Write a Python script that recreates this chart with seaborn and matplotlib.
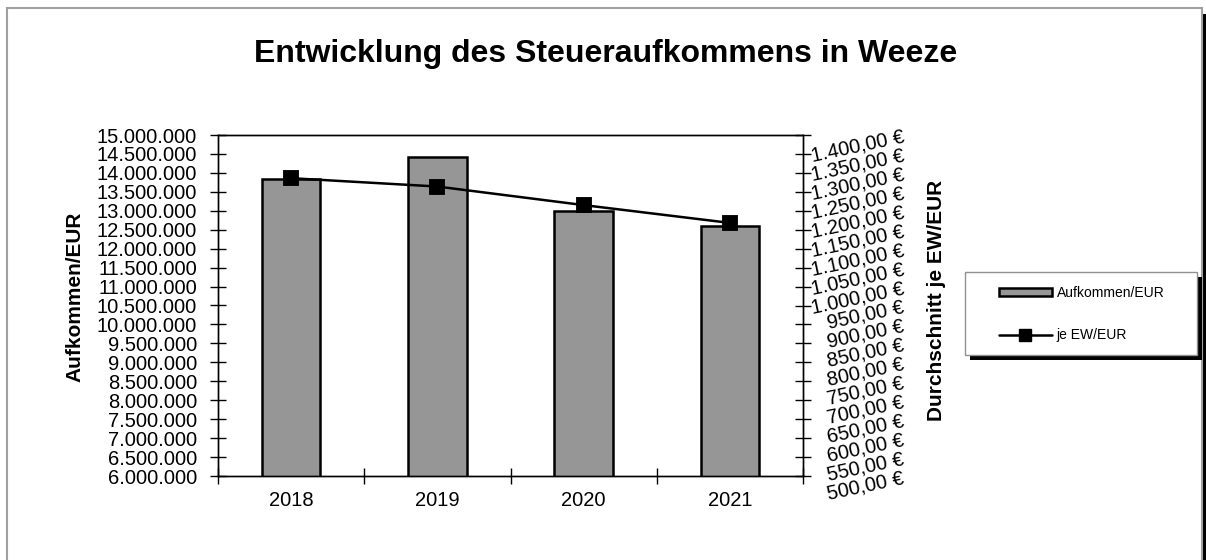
import matplotlib
matplotlib.use("Agg")
import matplotlib.pyplot as plt
import seaborn as sns
from matplotlib.patches import Rectangle, Patch
from matplotlib.lines import Line2D
from matplotlib.ticker import FuncFormatter, MultipleLocator

# data
years = ['2018', '2019', '2020', '2021']
aufkommen = [13_830_000, 14_410_000, 13_000_000, 12_600_000]   # Aufkommen/EUR
je_ew = [1286, 1264, 1215, 1168]                                # je EW/EUR

sns.set_style('ticks')
plt.rcParams['font.family'] = ['Liberation Sans', 'DejaVu Sans']
plt.rcParams['text.color'] = 'black'

W, H = 1206, 560
fig = plt.figure(figsize=(W / 100, H / 100), dpi=100)

# outer chart frame with black shadow on the right
fig.add_artist(Rectangle((12 / W, -0.1), (1207 - 12) / W, 1.1 - 14 / H,
                         facecolor='black', edgecolor='none', zorder=-3))
fig.add_artist(Rectangle((7 / W, -0.1), (1202 - 7) / W, 1.1 - 8 / H,
                         facecolor='white', edgecolor='#a0a0a0', lw=1.5, zorder=-2))

ax = fig.add_axes([218 / W, 84 / H, 585 / W, 341 / H])
sns.barplot(x=years, y=aufkommen, ax=ax, color='#969696', width=0.4,
            edgecolor='black', linewidth=1.8, saturation=1)

ax2 = ax.twinx()
sns.pointplot(x=years, y=je_ew, ax=ax2, color='black', marker='s',
              markersize=10.5, linewidth=1.8)

ax.set_ylim(6_000_000, 15_000_000)
ax.yaxis.set_major_locator(MultipleLocator(500_000))
ax.yaxis.set_major_formatter(FuncFormatter(lambda v, p: f'{int(round(v)):,}'.replace(',', '.')))
ax2.set_ylim(500, 1400)
ax2.yaxis.set_major_locator(MultipleLocator(50))


def euro(v, p):
    s = f'{v:,.2f}'.replace(',', 'X').replace('.', ',').replace('X', '.')
    return s + ' €'


ax2.yaxis.set_major_formatter(FuncFormatter(euro))

ax.set_xlim(-0.5, 3.5)
ax.set_xticks(range(len(years)), years)
ax.set_xticks([-0.5, 0.5, 1.5, 2.5, 3.5], minor=True)
ax.tick_params(axis='x', which='major', length=0, pad=11, labelsize=14.5, colors='black')
ax.tick_params(axis='x', which='minor', direction='inout', length=12, width=1, color='black')
ax.tick_params(axis='y', direction='inout', length=12, width=1, pad=9,
               labelsize=14.5, colors='black')
ax2.tick_params(axis='y', direction='inout', length=12, width=1, pad=68,
                labelsize=14.5, colors='black', labelrotation=12)
for lab in ax2.get_yticklabels():
    lab.set_horizontalalignment('right')

ax.set_xlabel('')
ax.set_ylabel('')
ax2.set_xlabel('')
ax2.set_ylabel('')
for a in (ax, ax2):
    for sp in a.spines.values():
        sp.set_visible(True)
        sp.set_color('black')
        sp.set_linewidth(1)

fig.text(606 / W, 1 - 62 / H, 'Entwicklung des Steueraufkommens in Weeze',
         ha='center', va='baseline', fontsize=23, fontweight='bold', color='black')
fig.text(75 / W, 1 - 297 / H, 'Aufkommen/EUR', rotation=90, ha='center', va='center',
         fontsize=15, fontweight='bold', color='black')
fig.text(937 / W, 1 - 300 / H, 'Durchschnitt je EW/EUR', rotation=90, ha='center',
         va='center', fontsize=15, fontweight='bold', color='black')

# legend box with shadow
fig.add_artist(Rectangle((970 / W, 1 - 360 / H), 232 / W, 83 / H,
                         facecolor='black', edgecolor='none', zorder=5))
fig.add_artist(Rectangle((965 / W, 1 - 355 / H), 232 / W, 83 / H,
                         facecolor='white', edgecolor='#909090', lw=1, zorder=6))
handles = [Patch(facecolor='#969696', edgecolor='black', linewidth=1.8),
           Line2D([], [], color='black', lw=1.8, marker='s', markersize=8)]
leg = fig.legend(handles, ['Aufkommen/EUR', 'je EW/EUR'], loc='center left',
                 bbox_to_anchor=(999 / W, 1 - 314 / H), frameon=False, fontsize=10,
                 handlelength=3.8, handleheight=0.45, handletextpad=0.35,
                 labelspacing=2.0, borderpad=0, borderaxespad=0, labelcolor='black')
leg.set_zorder(7)

fig.savefig('out.png', dpi=100)
